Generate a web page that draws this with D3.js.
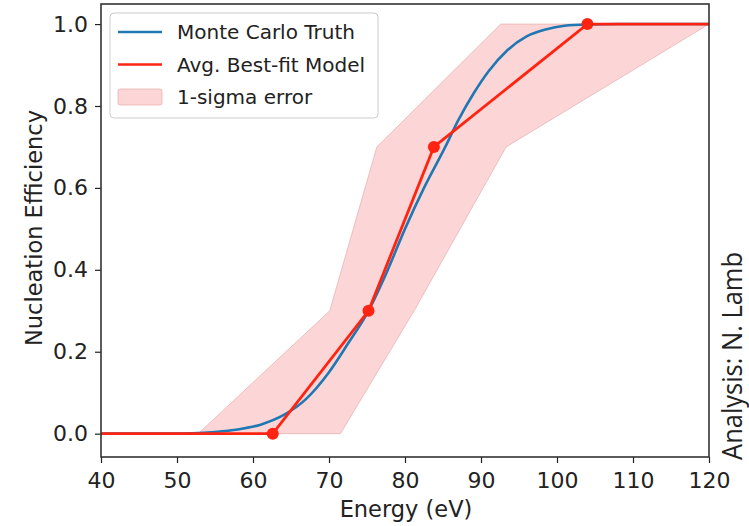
<!DOCTYPE html>
<html>
<head>
<meta charset="utf-8">
<script src="https://cdn.jsdelivr.net/npm/d3@7"></script>
<style>
  body { margin: 0; background: #fff; }
  text { font-family: "DejaVu Sans", sans-serif; fill: #222; }
</style>
</head>
<body>
<svg width="749" height="526"></svg>
<script>
// Monte Carlo truth curve
var truthE   = [40, 48, 52, 55, 58, 61, 64, 67, 70, 72.5, 75.2, 77.5, 80, 82.5, 85.3, 87, 89, 91, 93.4, 96, 98.5, 101, 104, 108, 120];
var truthEff = [0, 0, 0.001, 0.004, 0.01, 0.022, 0.045, 0.085, 0.15, 0.22, 0.3, 0.39, 0.5, 0.6, 0.7, 0.765, 0.83, 0.885, 0.935, 0.97, 0.987, 0.996, 0.999, 1.0, 1.0];

// averaged best-fit model
var fitE   = [40, 62.6, 75.2, 83.8, 104, 120];
var fitEff = [0, 0, 0.3, 0.7, 1.0, 1.0];
var markerIdx = [1, 2, 3, 4];

// 1-sigma band (filled between in x for each efficiency level)
var bandEff   = [0, 0.3, 0.7, 1.0];
var bandELow  = [52.8, 70.1, 76.3, 92.6];
var bandEHigh = [71.5, 81.2, 93.3, 120];

var xTicks = [40, 50, 60, 70, 80, 90, 100, 110, 120];
var yTicks = [0.0, 0.2, 0.4, 0.6, 0.8, 1.0];

var svg = d3.select("svg");
var mLeft = 101, mRight = 709, mTop = 4, mBottom = 457;

var x = d3.scaleLinear().domain([40, 120]).range([mLeft, mRight]);
var y = d3.scaleLinear().domain([-0.057, 1.049]).range([mBottom, mTop]);

var blue = "#1f77b4", red = "#ff2412";

svg.append("defs").append("clipPath").attr("id", "clip")
  .append("rect").attr("x", mLeft).attr("y", mTop)
  .attr("width", mRight - mLeft).attr("height", mBottom - mTop);

var plot = svg.append("g").attr("clip-path", "url(#clip)");

// band
var band = bandEff.map(function(v, i) { return {v: v, lo: bandELow[i], hi: bandEHigh[i]}; });
plot.append("path")
  .datum(band)
  .attr("d", d3.area()
    .y(function(d) { return y(d.v); })
    .x0(function(d) { return x(d.lo); })
    .x1(function(d) { return x(d.hi); }))
  .attr("fill", "#fcd6d6")
  .attr("stroke", "#e9b3b3")
  .attr("stroke-width", 0.8);

// truth curve
var truth = truthE.map(function(e, i) { return [e, truthEff[i]]; });
plot.append("path")
  .datum(truth)
  .attr("d", d3.line().x(function(d) { return x(d[0]); }).y(function(d) { return y(d[1]); })
    .curve(d3.curveMonotoneX))
  .attr("fill", "none")
  .attr("stroke", blue)
  .attr("stroke-width", 2.6);

// best-fit
var fit = fitE.map(function(e, i) { return [e, fitEff[i]]; });
plot.append("path")
  .datum(fit)
  .attr("d", d3.line().x(function(d) { return x(d[0]); }).y(function(d) { return y(d[1]); }))
  .attr("fill", "none")
  .attr("stroke", red)
  .attr("stroke-width", 2.8);

plot.selectAll("circle.pt")
  .data(markerIdx.map(function(i) { return fit[i]; }))
  .enter().append("circle")
  .attr("class", "pt")
  .attr("cx", function(d) { return x(d[0]); })
  .attr("cy", function(d) { return y(d[1]); })
  .attr("r", 6)
  .attr("fill", red);

// axes
var xAxis = svg.append("g").attr("transform", "translate(0," + mBottom + ")")
  .call(d3.axisBottom(x).tickValues(xTicks).tickSize(6).tickPadding(9).tickFormat(d3.format("d")));
var yAxis = svg.append("g").attr("transform", "translate(" + mLeft + ",0)")
  .call(d3.axisLeft(y).tickValues(yTicks).tickSize(6).tickPadding(7).tickFormat(d3.format(".1f")));
[xAxis, yAxis].forEach(function(a) {
  a.select(".domain").remove();
  a.selectAll("line").attr("stroke", "#222").attr("stroke-width", 1.2);
  a.selectAll("text").style("font-size", "22px").style("font-family", "DejaVu Sans").attr("fill", "#222");
});

// frame
svg.append("rect")
  .attr("x", mLeft).attr("y", mTop)
  .attr("width", mRight - mLeft).attr("height", mBottom - mTop)
  .attr("fill", "none").attr("stroke", "#333").attr("stroke-width", 1.6);

// axis labels
svg.append("text")
  .attr("x", 406).attr("y", 517)
  .attr("text-anchor", "middle")
  .style("font-size", "22.5px")
  .text("Energy (eV)");

svg.append("text")
  .attr("transform", "translate(42,228) rotate(-90)")
  .attr("text-anchor", "middle")
  .style("font-size", "22.5px")
  .text("Nucleation Efficiency");

// credit, squeezed to the width it has in the picture
var credit = svg.append("g").attr("transform", "translate(742,356) rotate(-90)");
var creditText = credit.append("text")
  .attr("text-anchor", "middle")
  .style("font-family", "'Open Sans', sans-serif")
  .style("font-size", "27px")
  .attr("fill", "#000")
  .text("Analysis:  N. Lamb");
var cw = creditText.node().getComputedTextLength();
creditText.attr("transform", "scale(" + (208 / cw) + ",1)");

// legend
var lg = svg.append("g");
lg.append("rect")
  .attr("x", 110).attr("y", 13).attr("width", 268).attr("height", 105)
  .attr("rx", 4).attr("fill", "#fff").attr("fill-opacity", 0.85)
  .attr("stroke", "#ccc").attr("stroke-width", 1);
var entries = [
  {label: "Monte Carlo Truth", kind: "line", color: blue},
  {label: "Avg. Best-fit Model", kind: "line", color: red},
  {label: "1-sigma error", kind: "patch", color: "#fcd6d6"}
];
entries.forEach(function(e, i) {
  var cy = 32 + i * 32.5;
  if (e.kind === "line") {
    lg.append("line").attr("x1", 118).attr("x2", 162).attr("y1", cy).attr("y2", cy)
      .attr("stroke", e.color).attr("stroke-width", 2.6);
  } else {
    lg.append("rect").attr("x", 118).attr("y", cy - 8).attr("width", 44).attr("height", 16)
      .attr("rx", 2).attr("fill", e.color).attr("stroke", "#e9b3b3").attr("stroke-width", 0.8);
  }
  lg.append("text").attr("x", 177).attr("y", cy).attr("dy", "0.35em")
    .style("font-size", "20px").text(e.label);
});
</script>
</body>
</html>
